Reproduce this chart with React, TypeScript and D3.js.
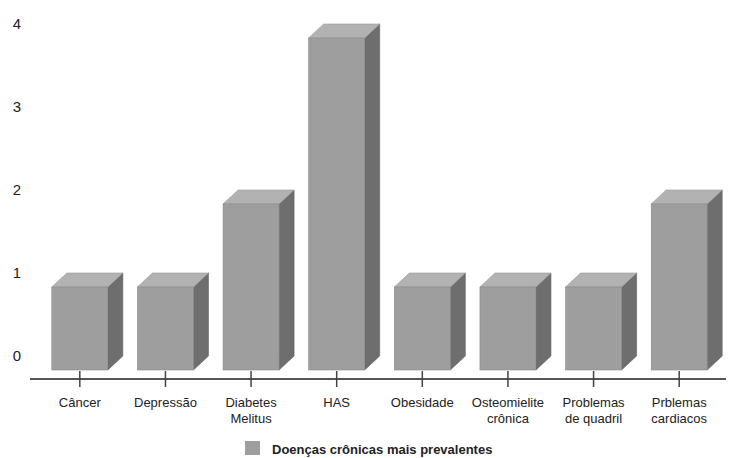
import { useEffect, useRef } from 'react';
import * as d3 from 'd3';

const categories: string[][] = [
  ['Câncer'],
  ['Depressão'],
  ['Diabetes', 'Melitus'],
  ['HAS'],
  ['Obesidade'],
  ['Osteomielite', 'crônica'],
  ['Problemas', 'de quadril'],
  ['Prblemas', 'cardiacos'],
];
const values: number[] = [1, 1, 2, 4, 1, 1, 1, 2];
const yTicks: number[] = [0, 1, 2, 3, 4];
const seriesName = 'Doenças crônicas mais prevalentes';

const W = 732;
const H = 458;
const DX = 15;
const DY = 14;
const BAR_W = 56;

export default function App(): React.JSX.Element {
  const svgRef = useRef<SVGSVGElement>(null);

  useEffect(() => {
    if (!svgRef.current) return;
    const svg = d3.select(svgRef.current);
    svg.selectAll('*').remove();

    const x = d3.scalePoint<number>()
      .domain(d3.range(categories.length))
      .range([37, 722])
      .padding(0.5);
    const y = d3.scaleLinear().domain([0, 4]).range([370, 38]);

    const font = '"Liberation Sans", Arial, sans-serif';

    // y labels sit on the back plane
    svg.append('g')
      .selectAll('text')
      .data(yTicks)
      .join('text')
      .attr('x', 17)
      .attr('y', d => y(d) - DY)
      .attr('dy', '0.35em')
      .attr('text-anchor', 'middle')
      .attr('font-family', font)
      .attr('font-size', 15)
      .attr('fill', '#222')
      .text(d => d);

    // baseline
    svg.append('line')
      .attr('x1', 30).attr('x2', 726)
      .attr('y1', 379).attr('y2', 379)
      .attr('stroke', '#555')
      .attr('stroke-width', 2);

    const bars = svg.append('g')
      .selectAll('g')
      .data(values)
      .join('g');

    const y0 = y(0);
    bars.append('path') // side
      .attr('d', (d, i) => {
        const r = (x(i) ?? 0) + BAR_W / 2;
        const t = y(d);
        return `M${r},${t}L${r + DX},${t - DY}L${r + DX},${y0 - DY}L${r},${y0}Z`;
      })
      .attr('fill', '#6e6e6e')
      .attr('stroke', '#5e5e5e')
      .attr('stroke-width', 0.6);

    bars.append('path') // top
      .attr('d', (d, i) => {
        const l = (x(i) ?? 0) - BAR_W / 2;
        const t = y(d);
        return `M${l},${t}L${l + DX},${t - DY}L${l + BAR_W + DX},${t - DY}L${l + BAR_W},${t}Z`;
      })
      .attr('fill', '#b2b2b2')
      .attr('stroke', '#999')
      .attr('stroke-width', 0.6);

    bars.append('rect') // front
      .attr('x', (_d, i) => (x(i) ?? 0) - BAR_W / 2)
      .attr('y', d => y(d))
      .attr('width', BAR_W)
      .attr('height', d => y0 - y(d))
      .attr('fill', '#9e9e9e')
      .attr('stroke', '#8a8a8a')
      .attr('stroke-width', 0.6);

    // ticks
    svg.append('g')
      .selectAll('line')
      .data(values)
      .join('line')
      .attr('x1', (_d, i) => x(i) ?? 0)
      .attr('x2', (_d, i) => x(i) ?? 0)
      .attr('y1', 371)
      .attr('y2', 387)
      .attr('stroke', '#444')
      .attr('stroke-width', 1.5);

    // category labels
    const labels = svg.append('g')
      .selectAll('text')
      .data(categories)
      .join('text')
      .attr('x', (_d, i) => x(i) ?? 0)
      .attr('y', 407)
      .attr('text-anchor', 'middle')
      .attr('font-family', font)
      .attr('font-size', 13)
      .attr('fill', '#222');
    labels.selectAll('tspan')
      .data(d => d)
      .join('tspan')
      .attr('x', function () {
        return (this.parentNode as SVGTextElement).getAttribute('x');
      })
      .attr('dy', (_d, j) => (j === 0 ? 0 : 16))
      .text(d => d);

    // legend
    svg.append('rect')
      .attr('x', 245).attr('y', 441)
      .attr('width', 15).attr('height', 14)
      .attr('fill', '#9e9e9e');
    svg.append('text')
      .attr('x', 272).attr('y', 454)
      .attr('font-family', font)
      .attr('font-size', 13)
      .attr('font-weight', 'bold')
      .attr('fill', '#222')
      .text(seriesName);
  }, []);

  return (
    <svg
      ref={svgRef}
      width={W}
      height={H}
      style={{ position: 'absolute', left: 0, top: 0, background: '#fff' }}
    />
  );
}
